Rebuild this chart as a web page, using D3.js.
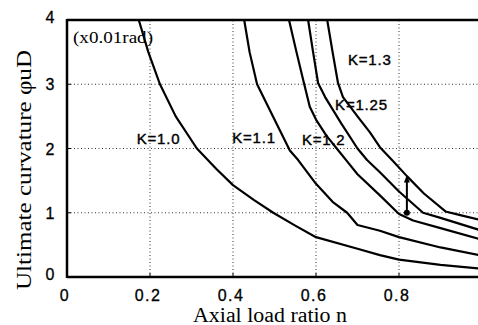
<!DOCTYPE html>
<html>
<head>
<meta charset="utf-8">
<script src="https://cdn.jsdelivr.net/npm/d3@7"></script>
<style>
  body { margin: 0; background: #fff; }
  .tickText { font-family: "Liberation Sans", Arial, sans-serif; font-size: 16px; letter-spacing: 1.5px; fill: #000; stroke: #000; stroke-width: 0.3px; }
  .kText { font-family: "Liberation Sans", Arial, sans-serif; font-size: 15px; letter-spacing: 0.8px; fill: #000; stroke: #000; stroke-width: 0.4px; }
  .axisText { font-family: "Liberation Serif", "Times New Roman", serif; fill: #000; }
</style>
</head>
<body>
<div id="chart"></div>
<script>
// chart data
var xTicks = [0, 0.2, 0.4, 0.6, 0.8];
var xTickLabels = ["0", "0.2", "0.4", "0.6", "0.8"];
var yTicks = [0, 1, 2, 3, 4];
var yTickLabels = ["0", "1", "2", "3", "4"];

var k10 = [[0.173,4],[0.196,3.5],[0.224,3.0],[0.262,2.5],[0.313,2.0],[0.36,1.68],[0.40,1.43],[0.45,1.2],[0.497,1.0],[0.55,0.8],[0.60,0.62],[0.70,0.44],[0.754,0.34],[0.80,0.27],[0.90,0.19],[1.0,0.13]];
var k11 = [[0.427,4],[0.44,3.5],[0.458,3.0],[0.497,2.49],[0.537,1.97],[0.557,1.82],[0.60,1.45],[0.64,1.17],[0.675,1.0],[0.70,0.81],[0.754,0.72],[0.80,0.62],[0.90,0.46],[1.0,0.33]];
var k12 = [[0.535,4],[0.553,3.5],[0.569,3.07],[0.585,2.65],[0.60,2.45],[0.625,2.2],[0.65,2.0],[0.675,1.8],[0.70,1.6],[0.754,1.27],[0.80,0.98],[0.834,0.88],[0.90,0.76],[1.0,0.58]];
var k125 = [[0.581,4],[0.593,3.5],[0.605,3.02],[0.622,2.8],[0.66,2.4],[0.70,2.0],[0.723,1.82],[0.754,1.63],[0.80,1.33],[0.858,1.0],[0.90,0.92],[1.0,0.72]];
var k13 = [[0.627,4],[0.64,3.5],[0.653,3.02],[0.665,2.8],[0.70,2.5],[0.73,2.25],[0.754,2.02],[0.786,1.8],[0.819,1.57],[0.86,1.3],[0.912,1.02],[0.95,0.96],[1.0,0.88]];
var curves = [k10, k11, k12, k125, k13];

// curve labels [text, n, value at baseline]
var kLabels = [["K=1.0", 0.168, 2.07], ["K=1.1", 0.398, 2.08], ["K=1.2", 0.566, 2.05], ["K=1.25", 0.646, 2.6], ["K=1.3", 0.677, 3.3]];

// arrow marker: from K=1.2 curve up towards K=1.3
var arrowN = 0.819;
var arrowFrom = 1.0;
var arrowTo = 1.55;

// Set up chart
var svgWidth = 478;
var svgHeight = 325;

var svg = d3.select("#chart")
  .append("svg")
  .attr("width", svgWidth)
  .attr("height", svgHeight);

var xScale = d3.scaleLinear().domain([0, 1]).range([67, 482]);
var yScale = d3.scaleLinear().domain([0, 4]).range([277, 20]);

// dotted grid
var grid = svg.append("g")
  .attr("stroke", "#333")
  .attr("stroke-width", 1)
  .attr("stroke-dasharray", "1,2.5");

grid.selectAll(".vgrid")
  .data(xTicks.slice(1))
  .enter()
  .append("line")
  .attr("x1", d => xScale(d))
  .attr("x2", d => xScale(d))
  .attr("y1", yScale(0))
  .attr("y2", yScale(4));

grid.selectAll(".hgrid")
  .data([1, 2, 3])
  .enter()
  .append("line")
  .attr("x1", xScale(0))
  .attr("x2", svgWidth)
  .attr("y1", d => yScale(d))
  .attr("y2", d => yScale(d));

// curves
var line = d3.line()
  .x(d => xScale(d[0]))
  .y(d => yScale(d[1]));

svg.append("g")
  .selectAll("path")
  .data(curves)
  .enter()
  .append("path")
  .attr("d", line)
  .attr("fill", "none")
  .attr("stroke", "#000")
  .attr("stroke-width", 2.2)
  .attr("stroke-linejoin", "round");

// frame: left, bottom and top border
var frame = svg.append("g").attr("stroke", "#000").attr("stroke-width", 2.5);
frame.append("line")
  .attr("x1", xScale(0)).attr("x2", xScale(0))
  .attr("y1", yScale(4) - 1).attr("y2", yScale(0) + 1);
frame.append("line")
  .attr("x1", xScale(0)).attr("x2", svgWidth)
  .attr("y1", yScale(0)).attr("y2", yScale(0));
frame.append("line")
  .attr("x1", xScale(0)).attr("x2", svgWidth)
  .attr("y1", yScale(4)).attr("y2", yScale(4));

// small inward ticks
svg.append("g")
  .selectAll("line")
  .data(yTicks.slice(1, 4))
  .enter()
  .append("line")
  .attr("x1", xScale(0)).attr("x2", xScale(0) + 4)
  .attr("y1", d => yScale(d)).attr("y2", d => yScale(d))
  .attr("stroke", "#000");

svg.append("g")
  .selectAll("line")
  .data(xTicks.slice(1))
  .enter()
  .append("line")
  .attr("x1", d => xScale(d)).attr("x2", d => xScale(d))
  .attr("y1", yScale(0)).attr("y2", yScale(0) - 4)
  .attr("stroke", "#000");

// tick labels
svg.append("g")
  .selectAll("text")
  .data(xTicks)
  .enter()
  .append("text")
  .attr("class", "tickText")
  .attr("x", d => xScale(d) - 2)
  .attr("y", 301)
  .attr("text-anchor", "middle")
  .text((d, i) => xTickLabels[i]);

svg.append("g")
  .selectAll("text")
  .data(yTicks)
  .enter()
  .append("text")
  .attr("class", "tickText")
  .attr("x", 56)
  .attr("y", d => yScale(d) + 6 - (d === 0 ? 3 : 0) - (d === 4 ? 3 : 0))
  .attr("text-anchor", "end")
  .text((d, i) => yTickLabels[i]);

// curve labels
svg.append("g")
  .selectAll("text")
  .data(kLabels)
  .enter()
  .append("text")
  .attr("class", "kText")
  .attr("x", d => xScale(d[1]))
  .attr("y", d => yScale(d[2]))
  .text(d => d[0]);

// unit note
svg.append("text")
  .attr("class", "axisText")
  .attr("x", 73)
  .attr("y", 43)
  .attr("font-size", "16px")
  .attr("textLength", 80)
  .attr("lengthAdjust", "spacingAndGlyphs")
  .text("(x0.01rad)");

// arrow with dot
svg.append("line")
  .attr("x1", xScale(arrowN)).attr("x2", xScale(arrowN))
  .attr("y1", yScale(arrowFrom)).attr("y2", yScale(arrowTo))
  .attr("stroke", "#000")
  .attr("stroke-width", 2);

svg.append("circle")
  .attr("cx", xScale(arrowN))
  .attr("cy", yScale(arrowFrom))
  .attr("r", 3)
  .attr("fill", "#000");

var ax = xScale(arrowN), ay = yScale(arrowTo);
svg.append("path")
  .attr("d", "M" + ax + "," + (ay - 2) + "L" + (ax - 3) + "," + (ay + 5) + "L" + (ax + 3) + "," + (ay + 5) + "Z")
  .attr("fill", "#000");

// axis titles
svg.append("text")
  .attr("class", "axisText")
  .attr("x", 270)
  .attr("y", 322)
  .attr("font-size", "20px")
  .attr("text-anchor", "middle")
  .attr("textLength", 154)
  .attr("lengthAdjust", "spacingAndGlyphs")
  .text("Axial load ratio n");

svg.append("text")
  .attr("class", "axisText")
  .attr("transform", "translate(31,170) rotate(-90)")
  .attr("font-size", "21px")
  .attr("text-anchor", "middle")
  .attr("textLength", 240)
  .attr("lengthAdjust", "spacingAndGlyphs")
  .text("Ultimate curvature \u03c6uD");
</script>
</body>
</html>
